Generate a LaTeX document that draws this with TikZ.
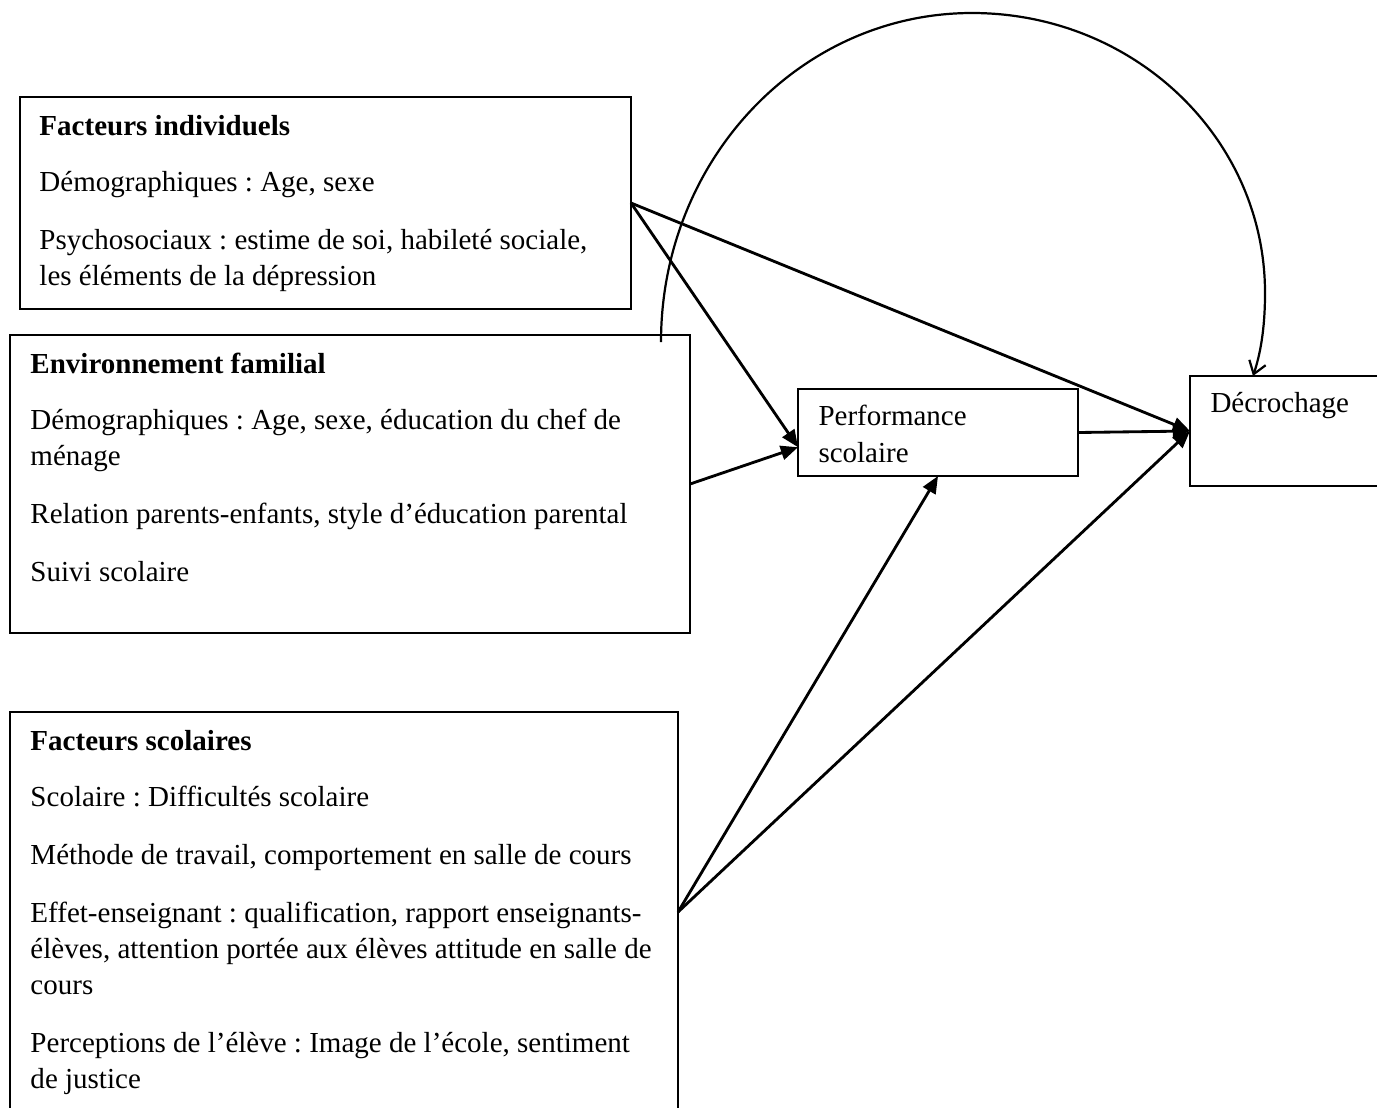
\documentclass[tikz,border=0pt]{standalone}
\usepackage{fontspec}
\setmainfont{Liberation Serif}
\usetikzlibrary{arrows.meta,positioning}
\frenchspacing

\begin{document}
\begin{tikzpicture}[x=0.4067pt,y=-0.4067pt,
  box/.style={draw,line width=0.6pt,rectangle,inner sep=0pt,outer sep=0pt,anchor=north west},
  txt/.style={align=left,inner sep=0pt,anchor=north west,font=\fontsize{11.8}{14.64}\selectfont},
  link/.style={-{Triangle[length=7pt,width=5.8pt]},line width=1.15pt},
  curve/.style={-{Straight Barb[length=5pt,width=7pt]},line width=0.9pt}]
  \useasboundingbox (0,0) rectangle (1377,1107);

  % factor boxes
  \node[box,minimum width=248.49pt,minimum height=86.22pt] (indiv) at (20,97) {};
  \node[box,minimum width=276.56pt,minimum height=121.2pt] (env) at (10,335) {};
  \node[box,minimum width=271.68pt,minimum height=162.68pt] (scol) at (10,712) {};
  \node[box,minimum width=113.88pt,minimum height=35.38pt] (perf) at (798,389) {};
  \node[box,minimum width=85.41pt,minimum height=44.74pt] (dec) at (1190,376) {};

  \node[txt] (indivtxt) at ([shift={(19,13)}]indiv.north west)
    {\strut\textbf{Facteurs individuels}\\[8.13pt]
     Démographiques : Age, sexe\\[8.95pt]
     Psychosociaux : estime de soi, habileté sociale,\\
     les éléments de la dépression};
  \node[txt] (envtxt) at ([shift={(20,13)}]env.north west)
    {\strut\textbf{Environnement familial}\\[8.13pt]
     Démographiques : Age, sexe, éducation du chef de\\
     ménage\\[8.95pt]
     Relation parents-enfants, style d’éducation parental\\[8.95pt]
     Suivi scolaire};
  \node[txt] (scoltxt) at ([shift={(20,13)}]scol.north west)
    {\strut\textbf{Facteurs scolaires}\\[8.13pt]
     Scolaire : Difficultés scolaire\\[8.95pt]
     Méthode de travail, comportement en salle de cours\\[8.95pt]
     Effet-enseignant : qualification, rapport enseignants-\\
     élèves, attention portée aux élèves attitude en salle de\\
     cours\\[8.95pt]
     Perceptions de l’élève : Image de l’école, sentiment\\
     de justice};
  \node[txt] (perftxt) at ([shift={(20,11)}]perf.north west) {\strut Performance\\[0.4pt] scolaire};
  \node[txt] (dectxt) at ([shift={(20,11)}]dec.north west) {\strut Décrochage};

  \path[link]
    (indiv.east) edge (perf.186)
                 edge (dec.west)
    (env.east)   edge (perf.186)
    (perf.east)  edge (dec.west)
    (scol.east)  edge (perf.south)
                 edge (dec.west);

  % loop from the family box to the dropout box
  \coordinate (loopstart) at ([shift={(651,7)}]env.north west);
  \coordinate (loopend) at ([shift={(63,0)}]dec.north west);
  \draw[curve] (loopstart) .. controls (661,160) and (800,13) .. (972,13)
    .. controls (1134,13) and (1265,138) .. (1265,293)
    .. controls (1265,330) and (1260,355) .. (loopend);
\end{tikzpicture}
\end{document}
